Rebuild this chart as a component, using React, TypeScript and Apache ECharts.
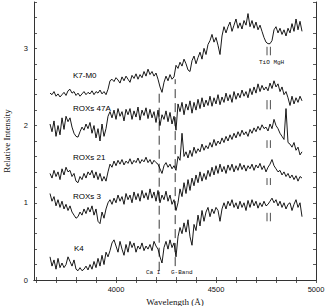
import React, { useEffect, useRef } from "react";
import * as echarts from "echarts";

// Wavelength grid of the spectra (Å)
const LAMBDA_START = 3670;
const LAMBDA_STEP = 10;

// Relative intensity (offset) of each spectrum, sampled every 10 Å from 3670 Å
const k7m0 = [
  2.42, 2.40, 2.44, 2.38, 2.41, 2.37, 2.40, 2.43, 2.39, 2.45,
  2.47, 2.42, 2.44, 2.39, 2.42, 2.38, 2.41, 2.44, 2.40, 2.43,
  2.41, 2.45, 2.40, 2.44, 2.42, 2.46, 2.41, 2.44, 2.40, 2.47,
  2.58, 2.60, 2.57, 2.62, 2.59, 2.55, 2.63, 2.58, 2.64, 2.60,
  2.56, 2.65, 2.61, 2.67, 2.60, 2.66, 2.62, 2.70, 2.64, 2.73,
  2.66, 2.70, 2.64, 2.68, 2.60, 2.50, 2.43, 2.56, 2.64, 2.58,
  2.66, 2.60, 2.63, 2.78, 2.74, 2.82, 2.77, 2.86, 2.80, 2.72,
  2.70, 2.84, 2.90, 2.80, 2.88, 2.95, 2.86, 3.00, 2.92, 3.05,
  3.10, 3.18, 3.08, 3.14, 3.04, 2.92, 3.16, 3.28, 3.20, 3.28,
  3.34, 3.22, 3.30, 3.38, 3.26, 3.33, 3.25, 3.36, 3.30, 3.45,
  3.28, 3.36, 3.26, 3.34, 3.24, 3.30, 3.22, 3.14, 3.08, 3.06,
  3.06, 3.10, 3.24, 3.28, 3.20, 3.26, 3.18, 3.24, 3.16, 3.26,
  3.20, 3.32, 3.22, 3.38, 3.24, 3.35, 3.22,
];
const roxs47a = [
  2.02, 1.92, 2.06, 1.86, 2.00, 1.88, 2.10, 1.95, 2.12, 2.05,
  2.10, 1.98, 1.90, 1.86, 1.85, 1.92, 1.98, 1.94, 2.02, 1.96,
  2.04, 1.90, 2.00, 1.84, 1.96, 1.80, 2.02, 1.86, 1.96, 2.12,
  2.18, 2.10, 2.20, 2.08, 2.22, 2.12, 2.18, 2.06, 2.21, 2.14,
  2.22, 2.08, 2.19, 2.11, 2.24, 2.07, 2.20, 2.13, 2.23, 2.09,
  2.21, 2.10, 2.18, 2.04, 2.20, 2.00, 2.14, 2.08, 2.19, 2.05,
  2.17, 2.02, 2.12, 1.94, 2.28, 2.18, 2.30, 2.14, 2.28, 2.20,
  2.32, 2.16, 2.30, 2.20, 2.34, 2.22, 2.36, 2.24, 2.33, 2.26,
  2.38, 2.25, 2.36, 2.28, 2.40, 2.27, 2.37, 2.30, 2.42, 2.32,
  2.40, 2.30, 2.44, 2.34, 2.42, 2.36, 2.46, 2.38, 2.44, 2.36,
  2.48, 2.40, 2.50, 2.42, 2.54, 2.44, 2.52, 2.46, 2.50, 2.45,
  2.55, 2.48, 2.58, 2.50, 2.54, 2.44, 2.50, 2.40, 2.44, 2.36,
  2.26, 2.38, 2.28, 2.36, 2.30, 2.38, 2.32,
];
const roxs21 = [
  1.38, 1.32, 1.42, 1.34, 1.40, 1.30, 1.44, 1.36, 1.46, 1.40,
  1.42, 1.34, 1.38, 1.28, 1.26, 1.34, 1.30, 1.38, 1.32, 1.40,
  1.36, 1.42, 1.32, 1.40, 1.30, 1.38, 1.28, 1.34, 1.28, 1.40,
  1.50, 1.46, 1.54, 1.48, 1.55, 1.50, 1.56, 1.49, 1.54, 1.51,
  1.57, 1.50, 1.55, 1.52, 1.58, 1.51, 1.56, 1.53, 1.59, 1.52,
  1.56, 1.50, 1.55, 1.52, 1.50, 1.44, 1.38, 1.48, 1.52, 1.46,
  1.50, 1.44, 1.48, 1.42, 1.60, 1.55, 1.90, 1.60, 1.66, 1.58,
  1.68, 1.60, 1.72, 1.64, 1.70, 1.66, 1.76, 1.68, 1.74, 1.70,
  1.78, 1.72, 1.82, 1.74, 1.80, 1.76, 1.84, 1.78, 1.86, 1.80,
  1.88, 1.82, 1.90, 1.84, 1.92, 1.86, 1.94, 1.88, 1.92, 1.86,
  1.95, 1.90, 1.97, 1.92, 1.99, 1.94, 2.01, 1.96, 1.98, 1.93,
  2.02, 1.96, 2.08, 2.00, 1.96, 1.90, 1.86, 1.82, 2.22, 1.78,
  1.76, 1.72, 1.78, 1.68, 1.72, 1.62, 1.66,
];
const roxs3 = [
  1.12, 1.02, 1.08, 0.96, 1.04, 0.94, 1.02, 0.92, 0.98, 0.90,
  0.96, 0.88, 0.84, 0.80, 0.82, 0.88, 0.84, 0.92, 0.86, 0.94,
  0.88, 0.96, 0.84, 0.92, 0.76, 0.73, 0.88, 0.80, 0.92, 1.00,
  1.04, 0.98, 1.06, 1.00, 1.10, 1.02, 1.08, 0.98, 1.12, 1.04,
  1.10, 1.00, 1.14, 1.04, 1.12, 1.02, 1.16, 1.06, 1.13, 1.04,
  1.18, 1.06, 1.14, 1.02, 1.16, 1.00, 1.10, 1.04, 1.15, 1.02,
  1.10, 0.98, 1.04, 0.90, 1.00, 1.18, 1.08, 1.26, 1.12, 1.30,
  1.16, 1.32, 1.22, 1.36, 1.26, 1.40, 1.28, 1.38, 1.30, 1.42,
  1.34, 1.46, 1.36, 1.48, 1.38, 1.50, 1.40, 1.47, 1.38, 1.49,
  1.42, 1.50, 1.40, 1.48, 1.42, 1.51, 1.43, 1.49, 1.41, 1.48,
  1.44, 1.50, 1.42, 1.49, 1.45, 1.51, 1.43, 1.48, 1.40, 1.46,
  1.50, 1.56, 1.48, 1.44, 1.40, 1.42, 1.36, 1.40, 1.34, 1.38,
  1.32, 1.36, 1.30, 1.35, 1.28, 1.34, 1.32,
];
const k4 = [
  0.30, 0.18, 0.26, 0.14, 0.28, 0.16, 0.22, 0.16, 0.20, 0.30,
  0.24, 0.18, 0.26, 0.14, 0.12, 0.16, 0.12, 0.14, 0.18, 0.13,
  0.20, 0.14, 0.24, 0.16, 0.28, 0.18, 0.32, 0.20, 0.36, 0.30,
  0.38, 0.48, 0.52, 0.44, 0.36, 0.50, 0.40, 0.32, 0.46, 0.36,
  0.50, 0.42, 0.48, 0.36, 0.44, 0.40, 0.48, 0.38, 0.44, 0.40,
  0.46, 0.38, 0.50, 0.44, 0.40, 0.30, 0.22, 0.42, 0.50, 0.40,
  0.52, 0.42, 0.48, 0.30, 0.56, 0.68, 0.60, 0.74, 0.62, 0.78,
  0.56, 0.45, 0.72, 0.64, 0.84, 0.70, 0.90, 0.76, 0.88, 0.94,
  0.82, 0.92, 0.86, 0.94, 0.90, 0.76, 0.92, 1.00, 0.92, 1.02,
  0.96, 1.04, 0.94, 1.00, 0.92, 1.02, 0.94, 1.00, 0.90, 1.03,
  0.94, 1.04, 0.96, 1.02, 0.93, 1.00, 0.95, 1.02, 0.96, 0.98,
  1.02, 1.06, 1.00, 1.04, 0.96, 1.02, 0.94, 1.00, 0.92, 0.98,
  1.00, 0.90, 0.98, 1.04, 0.94, 1.00, 0.82,
];

const spectrumNames = ["K7-M0", "ROXs 47A", "ROXs 21", "ROXs 3", "K4"];
const spectrumValues = [k7m0, roxs47a, roxs21, roxs3, k4];

// Axis ticks and labels
const xTickValues = [3600, 3700, 3800, 3900, 4000, 4100, 4200, 4300, 4400, 4500, 4600, 4700, 4800, 4900, 5000];
const xLabelValues = [4000, 4500, 5000];
const yLabelValues = [0, 1, 2, 3];

// Line identifications: wavelength and [bottom, top] intensity of the dashed marker
const caILine = { lambda: 4216, range: [0.12, 2.42] };
const gBandLine = { lambda: 4296, range: [0.18, 2.6] };
const tioLambda = 4755;
const mghLambda = 4772;
const tioMghRanges = [
  [2.91, 3.02],
  [2.21, 2.33],
  [1.71, 1.81],
  [1.23, 1.32],
  [0.76, 0.87],
];

function buildSeries() {
  const series: any[] = [];
  spectrumValues.forEach((vals, si) => {
    series.push({
      name: spectrumNames[si],
      type: "line",
      data: vals.map((v, i) => [LAMBDA_START + i * LAMBDA_STEP, v]),
      showSymbol: false,
      symbol: "none",
      lineStyle: { color: "#000", width: 0.9 },
      silent: true,
      z: 3,
    });
  });
  [caILine, gBandLine].forEach((m) => {
    series.push({
      type: "line",
      data: [
        [m.lambda, m.range[0]],
        [m.lambda, m.range[1]],
      ],
      showSymbol: false,
      symbol: "none",
      lineStyle: { color: "#222", width: 0.9, type: [9, 5] },
      silent: true,
      z: 2,
    });
  });
  [tioLambda, mghLambda].forEach((lam) => {
    tioMghRanges.forEach((r) => {
      series.push({
        type: "line",
        data: [
          [lam, r[0]],
          [lam, r[1]],
        ],
        showSymbol: false,
        symbol: "none",
        lineStyle: { color: "#222", width: 0.8 },
        silent: true,
        z: 2,
      });
    });
  });
  return series;
}

const AXIS_COLOR = "#333";

export default function App() {
  const ref = useRef<HTMLDivElement>(null);
  useEffect(() => {
    if (!ref.current) return;
    const chart = echarts.init(ref.current, null, { renderer: "svg" });
    const tickBase = {
      show: true,
      inside: true,
      length: 3,
      lineStyle: { color: AXIS_COLOR, width: 0.8 },
    };
    const axisLine = { show: true, lineStyle: { color: AXIS_COLOR, width: 1 } };
    const labelFont = { fontFamily: "Liberation Sans, Arial, sans-serif", fontSize: 7.5, color: "#111" };
    const titleFont = { fontFamily: "Liberation Serif, serif", fontSize: 9, color: "#111" };
    const option: any = {
      animation: false,
      grid: { left: 34, right: 10, top: 2, bottom: 26, containLabel: false, outerBoundsMode: "none" },
      xAxis: [
        {
          type: "value",
          min: 3590,
          max: 5000,
          position: "bottom",
          axisLine,
          axisTick: { ...tickBase, customValues: xTickValues },
          axisLabel: { ...labelFont, margin: 5, customValues: xLabelValues, formatter: (v: number) => String(v) },
          splitLine: { show: false },
          name: "Wavelength (Å)",
          nameLocation: "middle",
          nameGap: 10,
          nameTextStyle: titleFont,
        },
        {
          type: "value",
          min: 3590,
          max: 5000,
          position: "top",
          axisLine,
          axisTick: { ...tickBase, customValues: xTickValues },
          axisLabel: { show: false },
          splitLine: { show: false },
        },
      ],
      yAxis: [
        {
          type: "value",
          min: 0,
          max: 3.6,
          interval: 0.2,
          position: "left",
          axisLine,
          axisTick: tickBase,
          axisLabel: { ...labelFont, margin: 6, customValues: yLabelValues, formatter: (v: number) => String(v) },
          splitLine: { show: false },
          name: "Relative Intensity",
          nameLocation: "middle",
          nameGap: 23,
          nameTextStyle: titleFont,
        },
        {
          type: "value",
          min: 0,
          max: 3.6,
          interval: 0.2,
          position: "right",
          axisLine,
          axisTick: tickBase,
          axisLabel: { show: false },
          splitLine: { show: false },
        },
      ],
      graphic: [
        { type: "text", left: 73, top: 71, style: { text: "K7-M0", font: "8px Liberation Sans", fill: "#000" } },
        { type: "text", left: 73, top: 104, style: { text: "ROXs 47A", font: "8px Liberation Sans", fill: "#000" } },
        { type: "text", left: 73, top: 153, style: { text: "ROXs 21", font: "8px Liberation Sans", fill: "#000" } },
        { type: "text", left: 73, top: 192, style: { text: "ROXs 3", font: "8px Liberation Sans", fill: "#000" } },
        { type: "text", left: 74, top: 244, style: { text: "K4", font: "8px Liberation Sans", fill: "#000" } },
        { type: "text", left: 146, top: 269, style: { text: "Ca I", font: "6px Liberation Mono", fill: "#111" } },
        { type: "text", left: 171, top: 269, style: { text: "G-Band", font: "6px Liberation Mono", fill: "#111" } },
        { type: "text", left: 259, top: 59, style: { text: "TiO MgH", font: "6px Liberation Mono", fill: "#111" } },
      ],
      series: buildSeries(),
    };
    chart.setOption(option);
    return () => chart.dispose();
  }, []);
  return (
    <div
      ref={ref}
      style={{ position: "fixed", left: 0, top: 0, width: 326, height: 306, background: "#fff" }}
    />
  );
}
